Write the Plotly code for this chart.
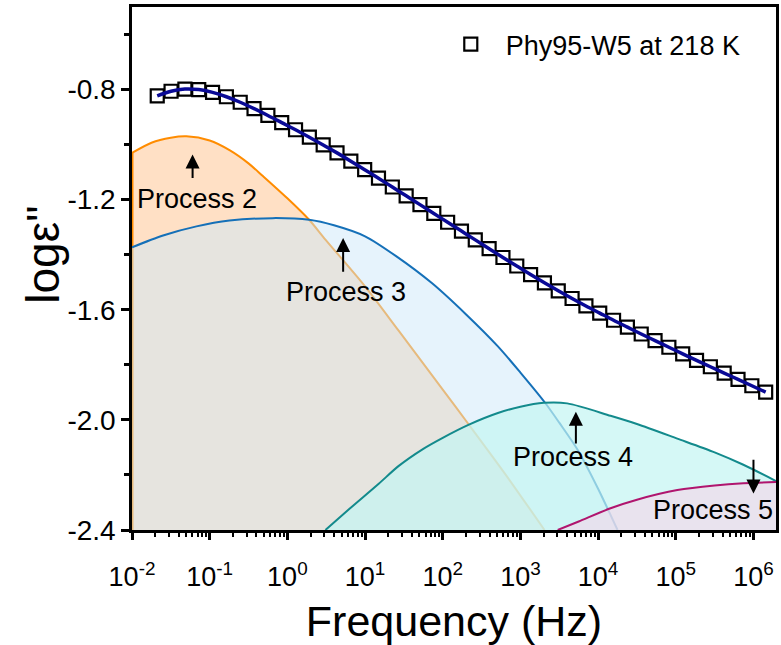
import math
import plotly.graph_objects as go

# ---------------- data ----------------
freq = [0.02113, 0.03184, 0.04797, 0.07228, 0.1089, 0.1641, 0.2472, 0.3724, 0.5610, 0.8453,
        1.274, 1.919, 2.891, 4.355, 6.561, 9.886, 14.89, 22.44, 33.81, 50.93,
        76.74, 115.6, 174.2, 262.4, 395.4, 595.7, 897.5, 1352, 2037, 3069,
        4624, 6966, 10495, 15812, 23823, 35892, 54075, 81470, 122744, 184927,
        278612, 419759, 632412, 952796, 1435489]
log_eps = [-0.823, -0.806, -0.798, -0.800, -0.810, -0.826, -0.846, -0.869, -0.894, -0.920,
           -0.946, -0.973, -1.001, -1.030, -1.060, -1.091, -1.122, -1.154, -1.186, -1.218,
           -1.250, -1.282, -1.314, -1.346, -1.378, -1.410, -1.441, -1.472, -1.502, -1.531,
           -1.559, -1.586, -1.612, -1.638, -1.663, -1.688, -1.712, -1.736, -1.760, -1.784,
           -1.807, -1.830, -1.853, -1.876, -1.899]

p2_f = [0.01, 0.0178, 0.0316, 0.0501, 0.1, 0.18, 0.316, 0.479, 1.0, 1.905, 3.09,
        10, 26.9, 100, 214, 631, 2042]
p2_y = [-1.030, -0.993, -0.975, -0.970, -0.985, -1.020, -1.068, -1.113, -1.195, -1.273, -1.345,
        -1.515, -1.675, -1.890, -2.015, -2.195, -2.40]

p3_f = [0.01, 0.0251, 0.0676, 0.18, 0.646, 1.905, 3.98, 10, 25.1, 72.4, 200, 513,
        1000, 2042, 3162, 5495, 10000, 17783]
p3_y = [-1.373, -1.330, -1.297, -1.276, -1.267, -1.273, -1.293, -1.333, -1.405, -1.503, -1.617,
        -1.733, -1.828, -1.935, -2.010, -2.110, -2.250, -2.40]

p4_f = [3.09, 6.31, 15.0, 26.9, 56.2, 100, 214, 513, 1000, 2000, 4000, 14454,
        31623, 104713, 316228, 741310, 1.95e6]
p4_y = [-2.40, -2.323, -2.232, -2.168, -2.105, -2.065, -2.018, -1.975, -1.952, -1.938, -1.940,
        -1.985, -2.015, -2.068, -2.118, -2.163, -2.222]

p5_f = [3020, 5623, 14454, 31623, 104713, 316228, 741310, 1.95e6]
p5_y = [-2.40, -2.369, -2.321, -2.29, -2.255, -2.238, -2.230, -2.226]

x_tickvals = [1e-2, 1e-1, 1e0, 1e1, 1e2, 1e3, 1e4, 1e5, 1e6]
x_ticktext = ["10<sup>-2</sup>", "10<sup>-1</sup>", "10<sup>0</sup>", "10<sup>1</sup>", "10<sup>2</sup>",
              "10<sup>3</sup>", "10<sup>4</sup>", "10<sup>5</sup>", "10<sup>6</sup>"]
y_tickvals = [-2.4, -2.0, -1.6, -1.2, -0.8]
y_ticktext = ["-2.4", "-2.0", "-1.6", "-1.2", "-0.8"]
y_minorvals = [-2.2, -1.8, -1.4, -1.0, -0.6]

Y_MIN, Y_MAX = -2.4, -0.5
FONT = "Arial, 'Liberation Sans', sans-serif"

processes = [
    (p2_f, p2_y, "#FF8C00", "rgba(255,140,40,0.27)"),
    (p3_f, p3_y, "#1570B8", "rgba(205,232,250,0.5)"),
    (p4_f, p4_y, "#138A8C", "rgba(195,245,242,0.7)"),
    (p5_f, p5_y, "#B0156E", "rgba(250,210,232,0.55)"),
]

fig = go.Figure()
for i, (f, y, lc, fc) in enumerate(processes):
    # filled area down to the axis minimum
    fig.add_trace(go.Scatter(x=f + [f[-1], f[0]], y=y + [Y_MIN, Y_MIN], mode="lines",
                             fill="toself", fillcolor=fc, line=dict(width=0, color=fc),
                             hoverinfo="skip", showlegend=False))
    if i == 0:
        # coloured left edge of the first area
        fig.add_trace(go.Scatter(x=[f[0], f[0]], y=[Y_MIN, y[0]], mode="lines",
                                 line=dict(color=lc, width=3), showlegend=False))
    fig.add_trace(go.Scatter(x=f, y=y, mode="lines",
                             line=dict(color=lc, width=2, shape="spline", smoothing=0.8),
                             showlegend=False))

fig.add_trace(go.Scatter(x=freq, y=log_eps, mode="markers",
                         name="\u00a0\u00a0Phy95-W5 at 218 K",
                         marker=dict(symbol="square", size=13, color="white",
                                     line=dict(color="black", width=2.2))))
fig.add_trace(go.Scatter(x=freq, y=log_eps, mode="lines",
                         line=dict(color="#0A0A96", width=3.5, shape="spline"),
                         showlegend=False))

labels = [("Process 2", -1.168, -1.199), ("Process 3", 0.752, -1.536),
          ("Process 4", 3.683, -2.134), ("Process 5", 5.484, -2.329)]
for t, xl, yl in labels:
    fig.add_annotation(x=xl, y=yl, text=t, showarrow=False,
                       font=dict(family=FONT, size=27, color="black"))

arrows = [(-1.22, -1.036, -1.127), (0.718, -1.339, -1.467),
          (3.714, -1.97, -2.091), (6.0, -2.267, -2.139)]
for xa, ytip, ytail in arrows:
    fig.add_annotation(x=xa, y=ytip, ax=xa, ay=ytail, axref="x", ayref="y",
                       xref="x", yref="y", text="", showarrow=True,
                       arrowhead=2, arrowsize=1.4, arrowwidth=2, arrowcolor="black")

# y-axis title
fig.add_annotation(x=-0.182, y=0.526, xref="paper", yref="paper", text="log\u03b5\"",
                   textangle=-90, showarrow=False,
                   font=dict(family=FONT, size=46, color="black"))

fig.update_layout(
    width=781, height=645,
    margin=dict(l=132, r=2, t=7, b=115),
    plot_bgcolor="white", paper_bgcolor="white",
    font=dict(family=FONT, color="black"),
    showlegend=True,
    legend=dict(x=0.495, y=0.975, xanchor="left", yanchor="top",
                bgcolor="rgba(0,0,0,0)", font=dict(size=27, family=FONT)),
    xaxis=dict(type="log", range=[-2, 6.29], tickmode="array", tickvals=x_tickvals,
               ticktext=x_ticktext, ticks="outside", ticklen=7, tickwidth=2.5,
               tickcolor="black", linecolor="black", linewidth=2.5, mirror=True,
               showgrid=False, zeroline=False, tickfont=dict(size=27),
               ticklabelstandoff=14,
               minor=dict(ticks="outside", ticklen=4, tickwidth=2, tickcolor="black",
                          dtick="D1", showgrid=False),
               title=dict(text="Frequency (Hz)", font=dict(size=43), standoff=16)),
    yaxis=dict(range=[Y_MIN, Y_MAX], tickmode="array", tickvals=y_tickvals,
               ticktext=y_ticktext, ticks="outside", ticklen=8, tickwidth=2.5,
               tickcolor="black", linecolor="black", linewidth=2.5, mirror=True,
               showgrid=False, zeroline=False, tickfont=dict(size=28),
               minor=dict(ticks="outside", ticklen=5, tickwidth=2.5, tickcolor="black",
                          tickmode="array", tickvals=y_minorvals, showgrid=False)),
)

fig.write_html("out.html")
